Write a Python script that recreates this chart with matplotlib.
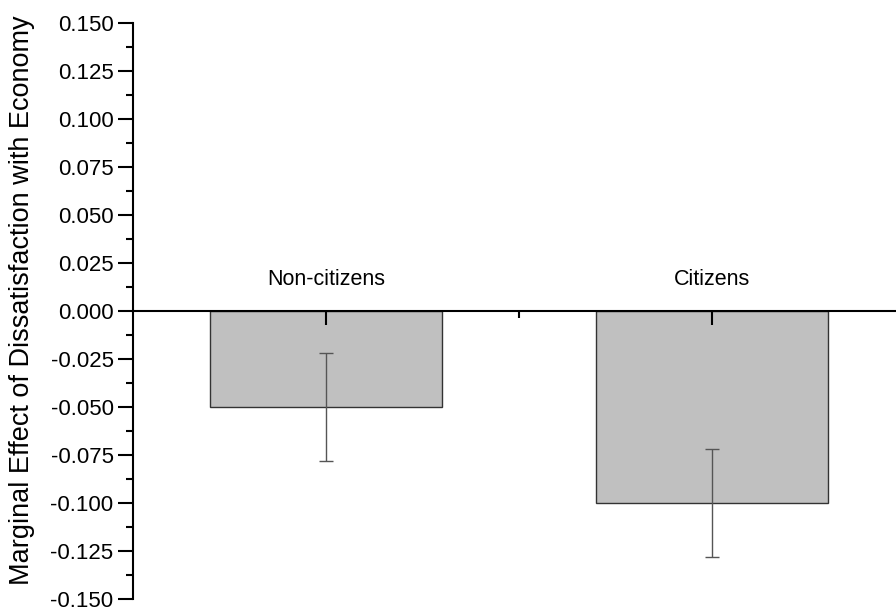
import matplotlib
matplotlib.use("Agg")
import matplotlib.pyplot as plt
import numpy as np

categories = ["Non-citizens", "Citizens"]
values = [-0.050, -0.100]
errors = [0.028, 0.028]
ytick_values = [-0.150, -0.125, -0.100, -0.075, -0.050, -0.025, 0.000,
                0.025, 0.050, 0.075, 0.100, 0.125, 0.150]
ylabel = "Marginal Effect of Dissatisfaction with Economy"

plt.rcParams['font.family'] = ['Liberation Sans', 'DejaVu Sans']

fig = plt.figure(figsize=(8.96, 6.10), dpi=100)
ax = fig.add_axes([133/896, 1-599/610, (905-133)/896, (599-23)/610])

x = np.arange(1, len(categories) + 1)
ax.bar(x, values, width=0.6, color='#c0c0c0', edgecolor='#333333', linewidth=1.0, zorder=1)
ax.errorbar(x, values, yerr=errors, fmt='none', ecolor='#555555', elinewidth=1.0,
            capsize=5, capthick=1.0, zorder=1.5)
ax.set_axisbelow(False)

ax.set_xlim(0.5, 2.5)
ax.set_ylim(-0.150, 0.150)
ax.set_yticks(ytick_values)
ax.set_yticklabels([f"{v:.3f}" for v in ytick_values])
ax.set_yticks(np.arange(-0.1375, 0.15, 0.025), minor=True)

ax.spines['right'].set_visible(False)
ax.spines['bottom'].set_visible(False)
ax.spines['top'].set_position(('data', 0))
ax.spines['top'].set_zorder(4)
for s in ['left', 'top']:
    ax.spines[s].set_linewidth(1.5)

ax.xaxis.tick_top()
ax.set_xticks(x)
ax.set_xticklabels([])
ax.set_xticks([1.5], minor=True)
ax.tick_params(axis='x', which='major', direction='in', length=10, width=1.5, labeltop=False)
ax.tick_params(axis='x', which='minor', direction='in', length=5, width=1.5)
for xi, cat in zip(x, categories):
    ax.annotate(cat, (xi, 0), xytext=(0, 26), textcoords='offset pixels',
                ha='center', va='baseline', fontsize=15.5)

ax.tick_params(axis='y', which='major', direction='out', length=11, width=1.5, labelsize=16, pad=3)
ax.tick_params(axis='y', which='minor', direction='out', length=5, width=1.5)

ax.set_ylabel(ylabel, fontsize=19.5)
ax.yaxis.set_label_coords(-0.127, 0.519)

fig.savefig("out.png", dpi=100)
